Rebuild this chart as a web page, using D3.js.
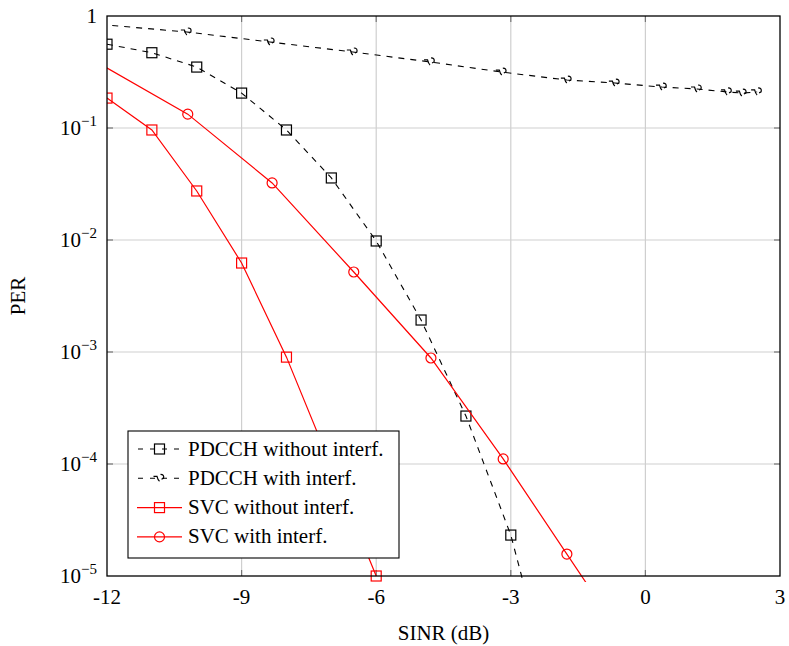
<!DOCTYPE html>
<html>
<head>
<meta charset="utf-8">
<script src="https://cdn.jsdelivr.net/npm/d3@7"></script>
<style>
  html, body { margin: 0; padding: 0; background: #fff; }
</style>
</head>
<body>
<svg id="chart" width="789" height="646"></svg>
<script>
// SINR (dB) vs packet error rate
const xTicks = [-12, -9, -6, -3, 0, 3];
const yTickExps = [0, -1, -2, -3, -4, -5];

const pdcchNoIntX = [-12, -11, -10, -9, -8, -7, -6, -5, -4, -3, -2];
const pdcchNoIntY = [0.56, 0.47, 0.35, 0.205, 0.096, 0.0358, 0.0098, 0.00193, 2.68e-4, 2.32e-5, 7e-7];

const pdcchIntX = [-12.15, -10.22, -8.37, -6.52, -4.8, -3.2, -1.75, -0.68, 0.37, 1.15, 1.82, 2.15, 2.49];
const pdcchIntY = [0.84, 0.72, 0.586, 0.477, 0.389, 0.316, 0.268, 0.252, 0.232, 0.223, 0.21, 0.205, 0.21];

const svcNoIntX = [-12, -11, -10, -9, -8, -6];
const svcNoIntY = [0.185, 0.096, 0.0274, 0.00623, 9.0e-4, 1.0e-5];

const svcIntX = [-12.15, -10.2, -8.32, -6.5, -4.78, -3.17, -1.75, -0.68];
const svcIntY = [0.372, 0.133, 0.0323, 0.00518, 8.84e-4, 1.11e-4, 1.57e-5, 3.6e-6];

const seriesNames = ["PDCCH without interf.", "PDCCH with interf.", "SVC without interf.", "SVC with interf."];

const FONT = "Liberation Serif";
const svg = d3.select("#chart");
const pLeft = 107, pRight = 780, pTop = 16, pBottom = 576;

const x = d3.scaleLinear().domain([-12, 3]).range([pLeft, pRight]);
const y = d3.scaleLog().domain([1e-5, 1]).range([pBottom, pTop]);

// grid
const grid = svg.append("g");
grid.selectAll("line.vx").data(xTicks.slice(1, -1)).join("line")
  .attr("x1", d => x(d)).attr("x2", d => x(d)).attr("y1", pTop).attr("y2", pBottom)
  .attr("stroke", "#cfcfcf").attr("stroke-width", 1.2);
grid.selectAll("line.hy").data(yTickExps.slice(1, -1)).join("line")
  .attr("x1", pLeft).attr("x2", pRight).attr("y1", d => y(Math.pow(10, d))).attr("y2", d => y(Math.pow(10, d)))
  .attr("stroke", "#cfcfcf").attr("stroke-width", 1.2);

// inner ticks
const ticks = svg.append("g").attr("stroke", "#777").attr("stroke-width", 1.2);
xTicks.slice(1, -1).forEach(t => {
  ticks.append("line").attr("x1", x(t)).attr("x2", x(t)).attr("y1", pBottom).attr("y2", pBottom - 6);
  ticks.append("line").attr("x1", x(t)).attr("x2", x(t)).attr("y1", pTop).attr("y2", pTop + 6);
});
yTickExps.slice(1, -1).forEach(e => {
  const yy = y(Math.pow(10, e));
  ticks.append("line").attr("x1", pLeft).attr("x2", pLeft + 6).attr("y1", yy).attr("y2", yy);
  ticks.append("line").attr("x1", pRight).attr("x2", pRight - 6).attr("y1", yy).attr("y2", yy);
});

svg.append("defs").append("clipPath").attr("id", "plotClip")
  .append("rect").attr("x", pLeft).attr("y", pTop).attr("width", pRight - pLeft).attr("height", pBottom - pTop + 6);

const plot = svg.append("g").attr("clip-path", "url(#plotClip)");

function zip(xs, ys) { return xs.map((v, i) => [v, ys[i]]); }
const line = d3.line().x(d => x(d[0])).y(d => y(d[1]));

// squiggle glyph used as marker for the interference PDCCH curve
const squiggle = "M-6,-2 L-2.5,-2 Q-1.5,2 0,3 M1,-4 Q5,-4 4,0 L2,1";

function squareMarks(g, data, color) {
  g.selectAll(null).data(data).join("rect")
    .attr("x", d => x(d[0]) - 5).attr("y", d => y(d[1]) - 5)
    .attr("width", 10).attr("height", 10)
    .attr("fill", "none").attr("stroke", color).attr("stroke-width", 1.2);
}
function circleMarks(g, data, color) {
  g.selectAll(null).data(data).join("circle")
    .attr("cx", d => x(d[0])).attr("cy", d => y(d[1])).attr("r", 5)
    .attr("fill", "none").attr("stroke", color).attr("stroke-width", 1.2);
}
function squiggleMarks(g, data, color) {
  g.selectAll(null).data(data).join("path")
    .attr("transform", d => `translate(${x(d[0])},${y(d[1])})`)
    .attr("d", squiggle)
    .attr("fill", "none").attr("stroke", color).attr("stroke-width", 1.2);
}

const dash = "6,6";
const s1 = zip(pdcchNoIntX, pdcchNoIntY);
const s2 = zip(pdcchIntX, pdcchIntY);
const s3 = zip(svcNoIntX, svcNoIntY);
const s4 = zip(svcIntX, svcIntY);

plot.append("path").datum(s1).attr("d", line).attr("fill", "none").attr("stroke", "#000").attr("stroke-width", 1.1).attr("stroke-dasharray", dash);
squareMarks(plot.append("g"), s1, "#000");

plot.append("path").datum(s2).attr("d", line).attr("fill", "none").attr("stroke", "#000").attr("stroke-width", 1.1).attr("stroke-dasharray", dash);
squiggleMarks(plot.append("g"), s2, "#000");

plot.append("path").datum(s3).attr("d", line).attr("fill", "none").attr("stroke", "#ff0000").attr("stroke-width", 1.2);
squareMarks(plot.append("g"), s3, "#ff0000");

plot.append("path").datum(s4).attr("d", line).attr("fill", "none").attr("stroke", "#ff0000").attr("stroke-width", 1.2);
circleMarks(plot.append("g"), s4, "#ff0000");

// frame
svg.append("rect").attr("x", pLeft).attr("y", pTop).attr("width", pRight - pLeft).attr("height", pBottom - pTop)
  .attr("fill", "none").attr("stroke", "#000").attr("stroke-width", 1.3);

// x tick labels
svg.append("g").selectAll("text").data(xTicks).join("text")
  .attr("font-family", FONT)
  .attr("x", d => x(d)).attr("y", 604).attr("text-anchor", "middle")
  .attr("font-size", 21).text(d => d);

// y tick labels
const yl = svg.append("g");
yTickExps.forEach(e => {
  const t = yl.append("text").attr("font-family", FONT).attr("x", 97).attr("y", y(Math.pow(10, e)) + 7)
    .attr("text-anchor", "end").attr("font-size", 21);
  if (e === 0) { t.text("1"); }
  else {
    t.append("tspan").text("10");
    t.append("tspan").attr("dy", -9).attr("font-size", 15).text("\u2212" + (-e));
  }
});

// axis titles
svg.append("text").attr("font-family", FONT).attr("x", (pLeft + pRight) / 2).attr("y", 640).attr("text-anchor", "middle")
  .attr("font-size", 21).text("SINR (dB)");
svg.append("text").attr("font-family", FONT).attr("transform", "translate(25,296) rotate(-90)").attr("text-anchor", "middle")
  .attr("font-size", 21).text("PER");

// legend
const lg = svg.append("g");
lg.append("rect").attr("x", 128).attr("y", 431).attr("width", 271).attr("height", 127)
  .attr("fill", "#fff").attr("stroke", "#000").attr("stroke-width", 1.1);
const styles = [
  { color: "#000", dash: dash, mark: "square" },
  { color: "#000", dash: dash, mark: "squiggle" },
  { color: "#ff0000", dash: null, mark: "square" },
  { color: "#ff0000", dash: null, mark: "circle" }
];
seriesNames.forEach((name, i) => {
  const yy = 449 + i * 29.3;
  const st = styles[i];
  const ln = lg.append("line").attr("x1", 137).attr("x2", 182).attr("y1", yy).attr("y2", yy)
    .attr("stroke", st.color).attr("stroke-width", 1.1);
  if (st.dash) ln.attr("stroke-dasharray", "5,7").attr("stroke-dashoffset", -1);
  const mx = 159.5;
  if (st.mark === "square") {
    lg.append("rect").attr("x", mx - 5).attr("y", yy - 5).attr("width", 10).attr("height", 10)
      .attr("fill", "none").attr("stroke", st.color).attr("stroke-width", 1.2);
  } else if (st.mark === "circle") {
    lg.append("circle").attr("cx", mx).attr("cy", yy).attr("r", 5)
      .attr("fill", "none").attr("stroke", st.color).attr("stroke-width", 1.2);
  } else {
    lg.append("path").attr("transform", `translate(${mx},${yy})`).attr("d", squiggle)
      .attr("fill", "none").attr("stroke", st.color).attr("stroke-width", 1.2);
  }
  lg.append("text").attr("font-family", FONT).attr("x", 188).attr("y", yy + 6.5).attr("font-size", 21).text(name);
});
</script>
</body>
</html>
